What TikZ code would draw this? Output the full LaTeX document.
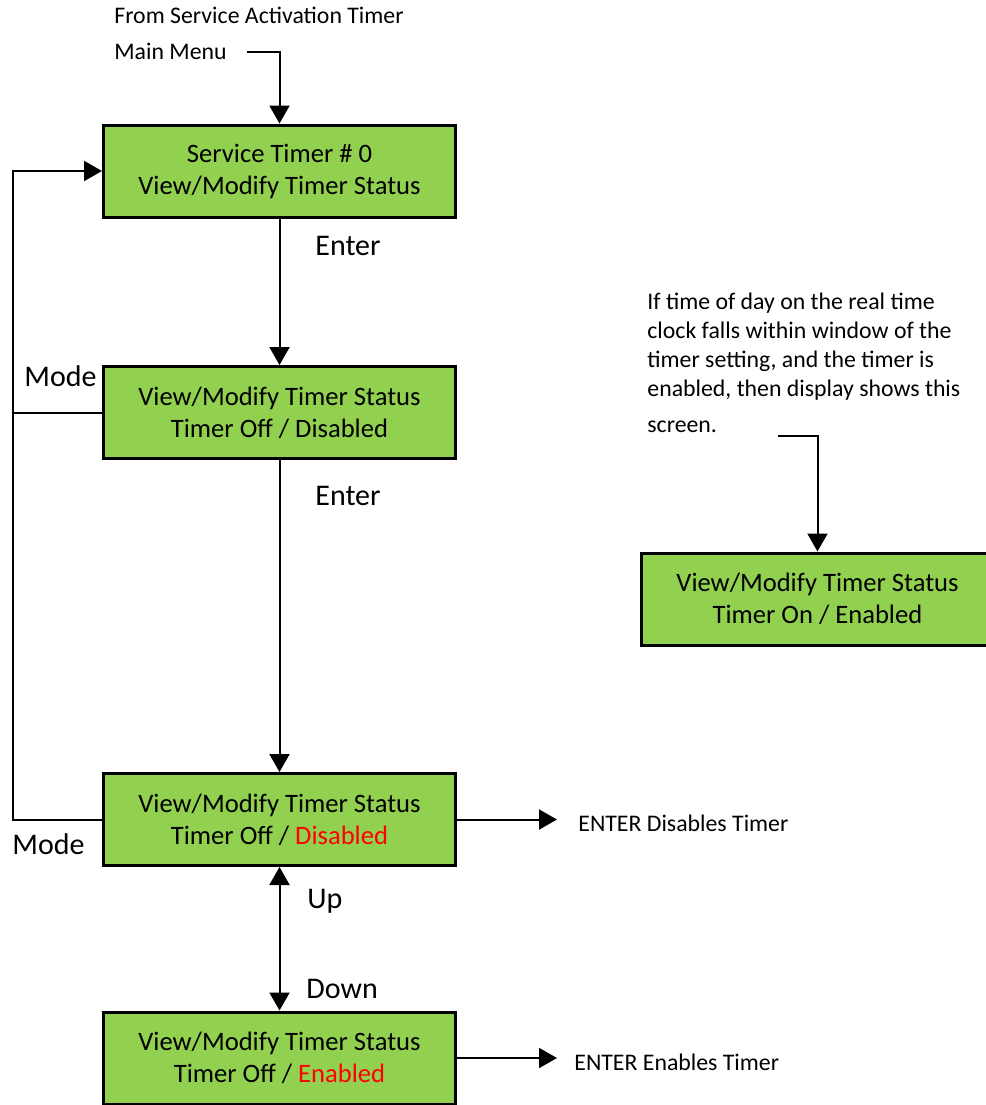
\documentclass[tikz,border=0pt]{standalone}
\usepackage{fontspec}
\setmainfont{Carlito}
\usetikzlibrary{arrows.meta}
\definecolor{lcdgreen}{RGB}{146,208,80}
\definecolor{alert}{RGB}{255,0,0}

\begin{document}
\begin{tikzpicture}[
      x=0.5pt,
      y=-0.5pt,
      >={Triangle[length=9pt,width=10pt]},
      flow/.style={->, line width=1pt},
      wire/.style={line width=1pt},
      screen/.style={draw, line width=1.5pt, fill=lcdgreen, align=center,
        minimum width=176pt, minimum height=46pt, inner sep=0pt,
        font=\fontsize{13.3}{16}\selectfont},
      note/.style={anchor=base west, inner sep=0pt, align=left,
        font=\fontsize{11.9}{14.5}\selectfont},
      key/.style={anchor=base west, inner sep=0pt,
        font=\fontsize{15}{18}\selectfont}
    ]
    \clip (0,0) rectangle (986,1105);

    % display screens
    \node[screen] (svc) at (279.5,171) {Service Timer \# 0\\View/Modify Timer Status};
    \node[screen] (offbox) at (279.5,412.5) {View/Modify Timer Status\\Timer Off / Disabled};
    \node[screen] (disbox) at (279.5,819.5) {View/Modify Timer Status\\Timer Off / \textcolor{alert}{Disabled}};
    \node[screen] (enbox) at (279.5,1058) {View/Modify Timer Status\\Timer Off / \textcolor{alert}{Enabled}};
    \node[screen] (onbox) at (817.5,599) {View/Modify Timer Status\\Timer On / Enabled};

    % entry from the main menu
    \node[note] (from) at (114,23) {From Service Activation Timer};
    \node[note] (menu) at (114,59) {Main Menu};
    \coordinate (feed) at (247,52);
    \draw[flow] (feed) -| (svc.north);

    % enter path
    \draw[flow] (svc) -- (offbox);
    \node[key] (enter1) at (315,255) {Enter};
    \draw[flow] (offbox) -- (disbox);
    \node[key] (enter2) at (315,505) {Enter};

    % mode returns to the first screen
    \coordinate (rail) at (13,500);
    \draw[flow] (disbox.west) -- (disbox.west -| rail) |- (svc.west);
    \draw[wire] (offbox.west) -- (offbox.west -| rail);
    \node[key] (mode1) at (24,386) {Mode};
    \node[key] (mode2) at (12,854) {Mode};

    % up / down toggles
    \draw[flow, <->] (disbox) -- (enbox);
    \node[key] (up) at (307,908) {Up};
    \node[key] (down) at (306,998) {Down};

    % enter actions
    \node[note] (distxt) at (578,831) {ENTER Disables Timer};
    \draw[flow] (disbox.east) -- ([xshift=-10.5pt]distxt.west |- disbox.east);
    \node[note] (entxt) at (574,1070) {ENTER Enables Timer};
    \draw[flow] (enbox.east) -- ([xshift=-8.5pt]entxt.west |- enbox.east);

    % real time clock note (base sits on the last line)
    \node[note] (rtc) at (647,432) {If time of day on the real time\\clock falls within window of the\\timer setting, and the timer is\\enabled, then display shows this\\[3.5pt]screen.};
    \coordinate (hook) at (778,436);
    \draw[flow] (hook) -| (onbox.north);
\end{tikzpicture}
\end{document}
